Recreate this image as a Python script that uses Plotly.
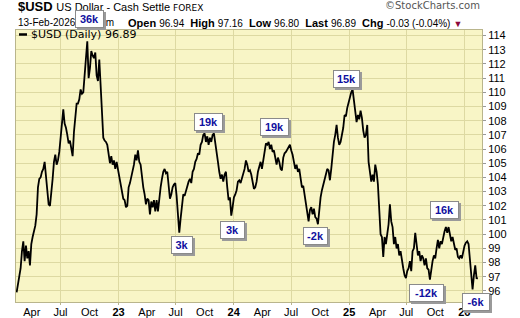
import plotly.graph_objects as go
import pandas as pd

# ---- data ----
usd_seg1 = [95.9, 96.4, 96.9, 97.6, 98.8, 99.5, 98.1, 99.2, 98.3, 98.8,
            97.8, 99.3, 99.8, 100.2, 100.6, 101.4, 103.3, 103.9, 104.0, 104.4,
            104.6, 105.1, 103.9, 103.1, 102.1, 102.0, 102.8, 103.9, 105.1, 105.6,
            104.9, 105.2, 105.8, 106.8, 108.2, 108.8, 107.8, 107.5, 107.0, 106.4,
            106.6, 106.1, 105.5, 107.2, 108.4, 109.2, 109.2, 109.5, 110.2, 109.9,
            110.0, 111.0, 112.4, 113.6, 111.0, 111.7, 112.9, 112.6, 112.4, 112.8,
            111.2, 110.8, 112.3, 110.5, 108.4, 106.8, 106.6, 106.5, 106.3, 105.6,
            105.0, 105.5, 104.9, 105.2, 104.6, 105.1, 104.6, 104.2, 103.5, 103.0,
            102.5, 102.4, 101.9, 102.0, 103.3]
usd_seg2 = [103.6, 104.0, 104.5, 104.9, 105.6, 105.2, 105.9, 105.1, 104.9, 104.0,
            103.3, 102.8, 102.1, 102.5, 102.4, 101.4, 102.3, 101.9, 102.4, 101.6,
            102.4, 101.6, 102.7, 103.3, 103.9, 104.4, 104.6, 104.3, 104.4, 103.5,
            102.5, 102.8, 103.3, 103.5, 103.6, 102.7, 101.4, 100.1, 101.1, 101.8,
            102.8, 102.7, 103.1, 103.5, 103.7, 103.9, 103.6, 104.4, 104.6, 105.1,
            105.3, 105.7, 105.6, 106.3, 106.5, 107.0, 107.1, 106.5, 106.9, 106.3,
            106.8, 106.5, 107.0, 107.1, 106.5, 106.0, 105.1, 104.4, 103.9, 104.2,
            103.7, 104.2, 104.4, 103.3, 102.4, 102.6, 101.3, 101.9, 102.6, 102.8,
            103.1, 103.7, 103.8, 103.6, 103.9, 104.2, 104.6]
usd_seg3 = [105.2, 104.9, 104.4, 104.5, 104.2, 103.7, 103.2, 103.3, 103.7, 104.4,
            104.8, 105.1, 104.6, 105.1, 105.8, 106.4, 106.3, 106.5, 106.0, 106.3,
            105.8, 105.9, 105.5, 104.9, 105.4, 105.1, 104.6, 104.5, 105.4, 105.7,
            105.8, 106.0, 106.2, 106.3, 105.9, 105.6, 105.1, 104.6, 104.9, 104.4,
            104.6, 103.7, 103.3, 103.4, 102.8, 102.1, 101.4, 100.9, 101.7, 101.9,
            101.4, 101.8, 101.2, 101.1, 100.7, 101.7, 102.6, 103.1, 103.5, 104.0,
            104.4, 104.6, 104.5, 103.8, 104.6, 105.6, 106.5, 107.0, 107.7, 106.8,
            106.3, 106.5, 107.0, 107.5, 108.4, 108.3, 108.9, 109.3, 109.5, 110.0,
            110.2, 109.4, 109.0, 107.9, 108.4, 108.1, 108.7]
usd_seg4 = [108.2, 107.3, 106.8, 107.0, 107.7, 105.1, 104.4, 103.7, 104.2, 103.7,
            104.9, 104.4, 103.5, 101.4, 100.0, 99.8, 98.4, 99.8, 99.3, 100.0,
            100.7, 102.1, 100.9, 100.5, 99.3, 99.8, 99.0, 99.3, 98.5, 98.8,
            98.1, 97.6, 97.1, 96.9, 97.4, 97.6, 98.1, 97.4, 98.8, 99.0,
            100.1, 99.3, 98.5, 98.8, 98.1, 98.5, 98.3, 97.8, 98.3, 97.6,
            97.5, 96.8, 97.6, 98.1, 98.5, 98.3, 99.0, 99.6, 99.0, 99.5,
            99.3, 99.8, 100.2, 100.5, 100.1, 100.5, 100.0, 99.5, 99.8, 99.3,
            98.9, 99.0, 98.4, 98.3, 98.5, 98.3, 98.9, 99.2, 99.4, 99.5,
            99.3, 98.1, 97.1, 96.1, 97.1, 97.8, 96.9, 96.89]

first_date = "2022-02-12"
last_date = "2026-02-13"

cot_labels = ["36k", "19k", "3k", "3k", "19k", "-2k", "15k", "16k", "-12k", "-6k"]

x_tick_dates = ["2022-04-01", "2022-07-01", "2022-10-01", "2023-01-01",
                "2023-04-01", "2023-07-01", "2023-10-01", "2024-01-01",
                "2024-04-01", "2024-07-01", "2024-10-01", "2025-01-01",
                "2025-04-01", "2025-07-01", "2025-10-01", "2026-01-01"]
x_tick_text = ["Apr", "Jul", "Oct", "<b>23</b>", "Apr", "Jul", "Oct", "<b>24</b>",
               "Apr", "Jul", "Oct", "<b>25</b>", "Apr", "Jul", "Oct", "<b>26</b>"]
grid_dates = ["2022-07-01", "2023-01-01", "2023-07-01", "2024-01-01",
              "2024-07-01", "2025-01-01", "2025-07-01", "2026-01-01"]
y_ticks = list(range(96, 115))

# ---- build ----
usd = usd_seg1 + usd_seg2 + usd_seg3 + usd_seg4
dates = pd.date_range(first_date, last_date, periods=len(usd))

FONT = "Liberation Sans, Arial, sans-serif"
BLUE = "#1010a0"

fig = go.Figure()
fig.add_trace(go.Scatter(x=dates, y=usd, mode="lines",
                         line=dict(color="black", width=1.8),
                         showlegend=False, hoverinfo="skip"))

annotations = []
# header texts (drawn first so the label boxes sit on top)
annotations.append(dict(xref="paper", yref="paper", x=0, y=1.086, xanchor="left",
                        yanchor="middle", showarrow=False,
                        text="<b>$USD</b> <span style='font-size:11px'>US Dollar - Cash Settle "
                             "</span><span style='font-family:DejaVu Sans;font-size:9px'>FOREX</span>",
                        font=dict(family=FONT, size=13, color="black")))
annotations.append(dict(xref="paper", yref="paper", x=1.0, y=1.09, xanchor="right",
                        yanchor="middle", showarrow=False, text="©StockCharts.com",
                        font=dict(family="DejaVu Sans, sans-serif", size=10, color="#555555")))
annotations.append(dict(xref="paper", yref="paper", x=0, y=1.026, xanchor="left",
                        yanchor="middle", showarrow=False, text="13-Feb-2026 4:59 pm",
                        font=dict(family=FONT, size=10, color="black")))
annotations.append(dict(xref="paper", yref="paper", x=0.961, y=1.026, xanchor="right",
                        yanchor="middle", showarrow=False,
                        text="<b>Open</b> <span style='font-size:10px'>96.94</span>  "
                             "<b>High</b> <span style='font-size:10px'>97.16</span>  "
                             "<b>Low</b> <span style='font-size:10px'>96.80</span>  "
                             "<b>Last</b> <span style='font-size:10px'>96.89</span>  "
                             "<b>Chg</b> <span style='font-size:10px'>-0.03 (-0.04%)</span> "
                             "<span style='color:#8c0a3c;font-size:9px'>▼</span>",
                        font=dict(family=FONT, size=11, color="black")))
# legend text
annotations.append(dict(xref="paper", yref="paper", x=0.027, y=0.983, xanchor="left",
                        yanchor="middle", showarrow=False, text="$USD (Daily) 96.89",
                        font=dict(family="DejaVu Sans, sans-serif", size=11, color="black")))

# paper positions / box widths for the COT labels (layout only)
label_pos = [(0.1577, 1.0390, 25), (0.4131, 0.6618, 25), (0.3562, 0.2107, 18),
             (0.4646, 0.2629, 21), (0.5547, 0.6434, 25), (0.6427, 0.2426, 21),
             (0.7092, 0.8199, 23), (0.9195, 0.3364, 25), (0.8809, 0.0313, 31),
             (0.9871, 0.0, 24)]

for txt, (ax, ay, w) in zip(cot_labels, label_pos):
    common = dict(xref="paper", yref="paper", x=ax, y=ay, xanchor="center",
                  yanchor="middle", showarrow=False, width=w, height=14,
                  borderpad=1, borderwidth=1)
    # drop shadow
    annotations.append(dict(common, text=txt, xshift=2, yshift=-2,
                            bgcolor="#9a9a9a", bordercolor="#9a9a9a",
                            font=dict(family=FONT, size=11, color="#9a9a9a")))
    annotations.append(dict(common, text="<b>%s</b>" % txt,
                            bgcolor="white", bordercolor="#8a8a8a",
                            font=dict(family=FONT, size=11, color=BLUE)))

shapes = [dict(type="line", xref="paper", yref="paper", x0=0.0064, x1=0.0236,
               y0=0.9835, y1=0.9835, line=dict(color="black", width=2.5))]

fig.update_layout(
    width=520, height=318,
    margin=dict(l=16, r=38, t=30, b=16),
    paper_bgcolor="white",
    plot_bgcolor="#f8f5c6",
    annotations=annotations,
    shapes=shapes,
    showlegend=False,
    xaxis=dict(type="date", range=["2022-02-10", "2026-02-26"], automargin=False,
               tickmode="array", tickvals=x_tick_dates, ticktext=x_tick_text,
               showgrid=False, ticks="", tickfont=dict(family=FONT, size=11, color="black"),
               showline=True, linecolor="#b9b58c", linewidth=1, mirror=True,
               zeroline=False,
               minor=dict(tickmode="array", tickvals=grid_dates, showgrid=True,
                          gridcolor="#ddd9a2", gridwidth=1, ticks="outside",
                          ticklen=2, tickcolor="#b9b58c")),
    yaxis=dict(side="right", range=[95.22, 114.39], tickmode="array", automargin=False,
               tickvals=y_ticks, ticktext=[str(v) for v in y_ticks],
               showgrid=True, gridcolor="#ddd9a2", gridwidth=1,
               ticks="outside", ticklen=3, tickcolor="#999999",
               tickfont=dict(family=FONT, size=11, color="black"),
               showline=True, linecolor="#b9b58c", linewidth=1, mirror=True,
               zeroline=False),
)

fig.write_html("out.html")
